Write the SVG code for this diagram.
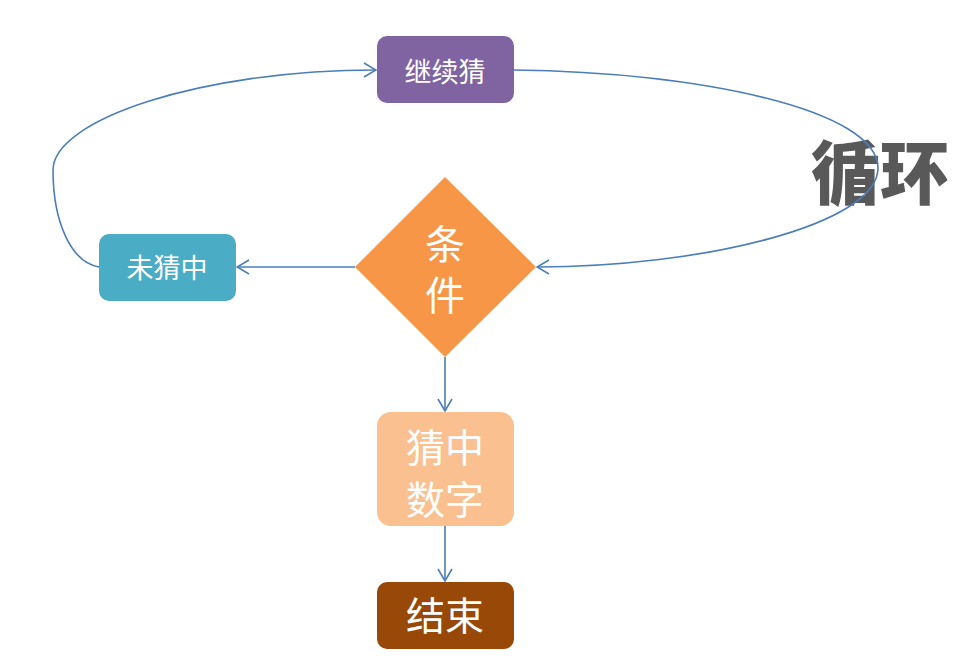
<svg xmlns="http://www.w3.org/2000/svg" width="959" height="665" viewBox="0 0 959 665">
<defs>
<style>
.t{font-family:"Noto Sans CJK SC","Noto Sans",sans-serif;fill:#fff;text-anchor:middle}
.c{fill:none;stroke:#4a7ebb;stroke-width:1.6}
</style>
<marker id="a" viewBox="0 0 14 16" refX="13" refY="8" markerWidth="14" markerHeight="16" markerUnits="userSpaceOnUse" orient="auto">
<path d="M1,1 L13,8 L1,15" fill="none" stroke="#4a7ebb" stroke-width="1.6"/>
</marker>
</defs>
<rect width="959" height="665" fill="#fff"/>
<text x="880" y="199" font-family="'Noto Sans CJK SC',sans-serif" font-weight="900" font-size="69" fill="#595959" text-anchor="middle">循环</text>
<g id="n-continue"><rect x="377" y="36" width="137" height="67" rx="10" fill="#8064a2"/><text class="t" x="445" y="82" font-size="27">继续猜</text></g>
<g id="n-miss"><rect x="99" y="234" width="137" height="67" rx="10" fill="#4bacc6"/><text class="t" x="167" y="278" font-size="27">未猜中</text></g>
<g id="n-cond"><polygon points="445,177 536,267 445,357 355,267" fill="#f79646"/><text class="t" font-size="40"><tspan x="445" y="259">条</tspan><tspan x="445" y="310">件</tspan></text></g>
<g id="n-hit"><rect x="377" y="412" width="137" height="114" rx="14" fill="#fac090"/><text class="t" font-size="39"><tspan x="445" y="462">猜中</tspan><tspan x="445" y="514">数字</tspan></text></g>
<g id="n-end"><rect x="377" y="582" width="137" height="67" rx="10" fill="#984807"/><text class="t" x="445" y="630" font-size="39">结束</text></g>
<g id="connectors">
<path class="c" d="M355,267 L237,267" marker-end="url(#a)"/>
<path class="c" d="M445,357 L445,411" marker-end="url(#a)"/>
<path class="c" d="M445,526 L445,581" marker-end="url(#a)"/>
<path class="c" d="M99,267 C70,262 53,220 53,170 C53,120 200,70 376,70" marker-end="url(#a)"/>
<path class="c" d="M514,70 C700,72 878,110 878,168 C878,225 700,267 537,267" marker-end="url(#a)"/>
</g>
</svg>
